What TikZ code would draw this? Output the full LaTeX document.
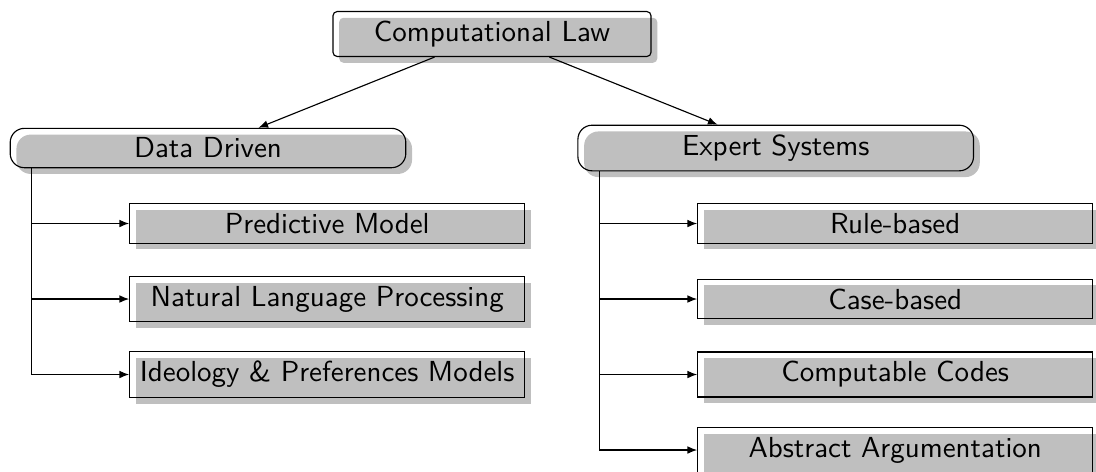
\documentclass[tikz,border=0pt]{standalone}
\usetikzlibrary{shadows,arrows.meta,calc}
\begin{document}
\begin{tikzpicture}[x=0.35211pt,y=-0.35211pt,
  font=\fontsize{10.2}{12}\selectfont\sffamily,
  box/.style={draw, drop shadow={fill=black!25, opacity=1,
      shadow xshift=2.2pt, shadow yshift=-2.2pt}},
  root/.style={box, rounded corners=1.5pt, minimum width=112pt},
  branch/.style={box, rounded corners=5pt, minimum width=139.3pt},
  leaf/.style={box, minimum width=139.1pt},
  link/.style={-{Latex[length=3.4pt,width=2.7pt]}}]
\useasboundingbox (0,0) rectangle (1096,471);

% root and the two branches
\node[root]   (law) at (492,34)    {Computational Law};
\node[branch] (dd)  at (208,148)   {Data Driven};
\node[branch] (es)  at (775.7,148) {Expert Systems};

% data-driven leaves
\node[leaf] (pm)  at (327.2,223.5) {Predictive Model};
\node[leaf] (nlp) at (327.2,299)   {Natural Language Processing};
\node[leaf] (ipm) at (327.2,374.5) {Ideology \& Preferences Models};

% expert-system leaves
\node[leaf] (rb) at (895.2,223.5) {Rule-based};
\node[leaf] (cb) at (895.2,299)   {Case-based};
\node[leaf] (cc) at (895.2,374.5) {Computable Codes};
\node[leaf] (aa) at (895.2,450)   {Abstract Argumentation};

% trunks hanging from the branches
\coordinate (ddtrunk) at ($(dd.south west)+(7.85pt,0)$);
\coordinate (estrunk) at ($(es.south west)+(7.85pt,0)$);

\draw[link] (law) -- (dd);
\draw[link] (law) -- (es);

\foreach \leaf in {pm,nlp,ipm}
  \draw[link] (ddtrunk) |- (\leaf.west);
\foreach \leaf in {rb,cb,cc,aa}
  \draw[link] (estrunk) |- (\leaf.west);
\end{tikzpicture}
\end{document}
